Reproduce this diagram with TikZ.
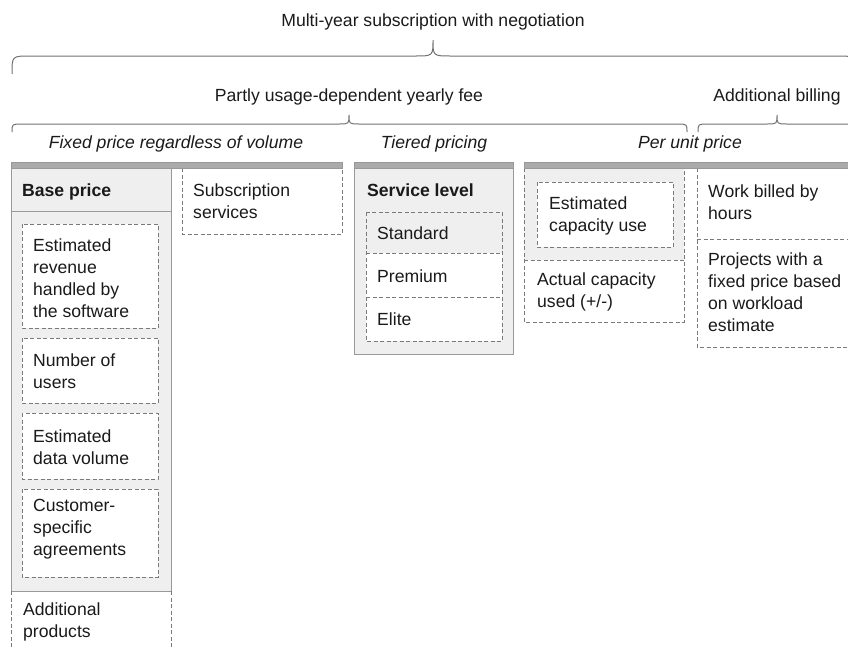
\documentclass[tikz,border=0pt]{standalone}
\usepackage{fontspec}
\setmainfont{Liberation Sans}
\definecolor{ink}{HTML}{1A1A1A}
\definecolor{panel}{HTML}{EFEFEF}
\definecolor{edge}{HTML}{999999}
\definecolor{barc}{HTML}{ABABAB}
\definecolor{baredge}{HTML}{999999}
\definecolor{dashc}{HTML}{7A7A7A}
\definecolor{bracecol}{HTML}{707070}
% stacked lines whose baseline is the first line's baseline
\newcommand\txtlines[1]{\begin{tabular}[t]{@{}l@{}}#1\end{tabular}}
\begin{document}
\begin{tikzpicture}[x=1pt,y=-1pt,
  txt/.style={inner sep=0pt, text=ink, font=\fontsize{17.6}{22}\selectfont},
  txtb/.style={txt, font=\fontsize{17.6}{22}\selectfont\bfseries},
  txti/.style={txt, font=\fontsize{17.6}{22}\selectfont\itshape},
  solidbox/.style={draw=edge, fill=panel, line width=1pt},
  edgeline/.style={draw=edge, line width=1pt},
  dashline/.style={draw=dashc, dash pattern=on 4pt off 2.5pt, line width=0.9pt},
  bar/.style={fill=barc, draw=baredge, line width=0.8pt},
  bracestyle/.style={draw=bracecol, line width=1pt}]
\useasboundingbox (0,0) rectangle (848,648);
\clip (0,0) rectangle (848,648);

% braces
\draw[bracestyle] (12,74) .. controls (12,56) .. (30,56) -- (415,56)
  .. controls (433,56) .. (433,40) .. controls (433,56) .. (451,56)
  -- (837,56) .. controls (855,56) .. (855,74);
\draw[bracestyle] (12,132) .. controls (12,124) .. (22,124) -- (339,124)
  .. controls (349,124) .. (349,115) .. controls (349,124) .. (359,124)
  -- (677,124) .. controls (687,124) .. (687,132);
\draw[bracestyle] (698,132) .. controls (698,124) .. (708,124) -- (767,124)
  .. controls (777,124) .. (777,115) .. controls (777,124) .. (787,124)
  -- (846,124) .. controls (856,124) .. (856,132);

% headings
\node[txt, anchor=base] (title) at (433,26) {Multi-year subscription with negotiation};
\node[txt, anchor=base] (fee) at (349,101) {Partly usage-dependent yearly fee};
\node[txt, anchor=base] (addbill) at (777,101) {Additional billing};
\node[txti, anchor=base] (fixed) at (176,148) {Fixed price regardless of volume};
\node[txti, anchor=base] (tiered) at (434,148) {Tiered pricing};
\node[txti, anchor=base] (perunit) at (690,148) {Per unit price};

% base price column
\draw[solidbox] (11,168) rectangle (171,591);
\draw[edgeline] (11,211) -- (171,211);
\draw[dashline, fill=white] (22,224) rectangle (158,328);
\draw[dashline, fill=white] (22,338) rectangle (158,403);
\draw[dashline, fill=white] (22,413) rectangle (158,479);
\draw[dashline, fill=white] (22,489) rectangle (158,577);
\draw[dashline] (11,591) -- (11,650);
\draw[dashline] (171,591) -- (171,650);

% subscription services
\draw[dashline] (182,168) -- (182,234) -- (342,234) -- (342,168);

% service level column
\draw[solidbox] (354,168) rectangle (513,354);
\fill[white] (366,253) rectangle (502,341);
\draw[dashline] (366,212) rectangle (502,341);
\draw[dashline] (366,253) -- (502,253);
\draw[dashline] (366,297) -- (502,297);

% capacity column
\fill[panel] (524,168) rectangle (684,260);
\draw[dashline] (524,168) -- (524,322) -- (684,322) -- (684,168);
\draw[dashline] (524,260) -- (684,260);
\draw[dashline, fill=white] (537,182) rectangle (673,247);

% additional billing column
\draw[dashline] (697,168) -- (697,347) -- (860,347);
\draw[dashline] (697,239) -- (860,239);

% header bars
\draw[bar] (11,162) rectangle (342,168);
\draw[bar] (354,162) rectangle (513,168);
\draw[bar] (524,162) rectangle (860,168);

% texts
\node[txtb, anchor=base west] (basep) at (22,196) {Base price};
\node[txt, anchor=base west] (rev) at (33,251) {\txtlines{Estimated\\revenue\\handled by\\the software}};
\node[txt, anchor=base west] (users) at (33,366) {\txtlines{Number of\\users}};
\node[txt, anchor=base west] (data) at (33,442) {\txtlines{Estimated\\data volume}};
\node[txt, anchor=base west] (cust) at (33,511) {\txtlines{Customer-\\specific\\agreements}};
\node[txt, anchor=base west] (addprod) at (23,615) {\txtlines{Additional\\products}};
\node[txt, anchor=base west] (subs) at (193,196) {\txtlines{Subscription\\services}};
\node[txtb, anchor=base west] (svc) at (367,196) {Service level};
\node[txt, anchor=base west] (std) at (377,239) {Standard};
\node[txt, anchor=base west] (prem) at (377,282) {Premium};
\node[txt, anchor=base west] (elite) at (377,325) {Elite};
\node[txt, anchor=base west] (estcap) at (549,209) {\txtlines{Estimated\\capacity use}};
\node[txt, anchor=base west] (actual) at (537,285) {\txtlines{Actual capacity\\used (+/-)}};
\node[txt, anchor=base west] (work) at (708,197) {\txtlines{Work billed by\\hours}};
\node[txt, anchor=base west] (proj) at (708,265) {\txtlines{Projects with a\\fixed price based\\on workload\\estimate}};
\end{tikzpicture}
\end{document}
